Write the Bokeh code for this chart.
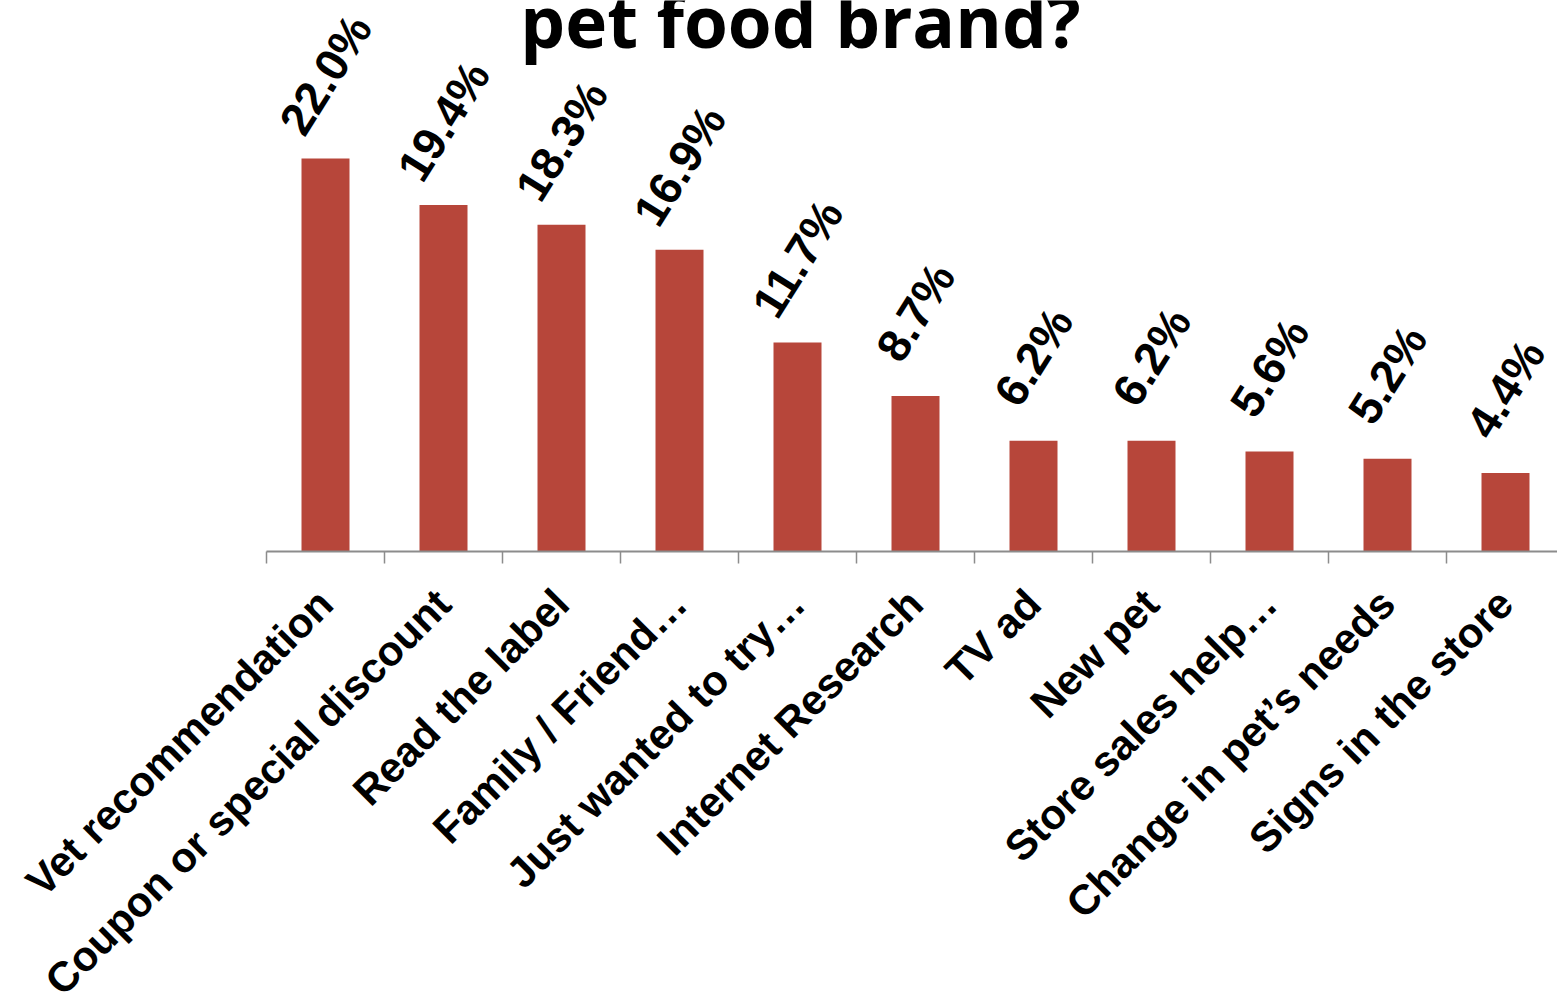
import math
from bokeh.plotting import figure
from bokeh.models import Range1d, FixedTicker, LinearAxis, Label, ColumnDataSource
from bokeh.core.properties import value
from bokeh.embed import file_html
from bokeh.resources import INLINE

categories = ["Vet recommendation", "Coupon or special discount", "Read the label",
              "Family / Friend\u2026", "Just wanted to try\u2026", "Internet Research",
              "TV ad", "New pet", "Store sales help\u2026", "Change in pet\u2019s needs",
              "Signs in the store"]
values = [22.0, 19.4, 18.3, 16.9, 11.7, 8.7, 6.2, 6.2, 5.6, 5.2, 4.4]
value_labels = ["22.0%", "19.4%", "18.3%", "16.9%", "11.7%", "8.7%", "6.2%", "6.2%",
                "5.6%", "5.2%", "4.4%"]
title_text = "pet food brand?"

W, H = 1557, 998
n = len(categories)
centers = [i + 1 for i in range(n)]
boundaries = [i + 0.5 for i in range(n + 1)]

cat_px = 118.0
px_per_unit = 17.86
left_px = 266
base_px = 551

x0 = 0.5 - left_px / cat_px
x1 = 0.5 + (W - left_px) / cat_px
y1 = base_px / px_per_unit
y0 = -(H - base_px) / px_per_unit

p = figure(width=W, height=H, output_backend="svg", toolbar_location=None,
           x_range=Range1d(x0, x1), y_range=Range1d(y0, y1),
           x_axis_location=None, y_axis_location=None,
           min_border=0, min_border_left=0, min_border_right=0,
           min_border_top=0, min_border_bottom=0)
p.outline_line_color = None
p.xgrid.grid_line_color = None
p.ygrid.grid_line_color = None
p.background_fill_color = "white"
p.border_fill_color = "white"

src = ColumnDataSource(dict(x=centers, top=values, lab=value_labels))
p.vbar(x="x", top="top", bottom=0, width=48 / cat_px, source=src,
       fill_color="#B7463A", line_color=None)

p.text(x="x", y="top", text="lab", source=src, y_offset=-84,
       angle=math.radians(58), text_align="center", text_baseline="middle",
       text_font=value("Liberation Sans"), text_font_style="bold",
       text_font_size="46px", text_color="black")

ax = LinearAxis(fixed_location=0)
ax.ticker = FixedTicker(ticks=centers, minor_ticks=boundaries)
ax.bounds = (0.5, n + 0.5)
ax.axis_line_color = "#8C8C8C"
ax.axis_line_width = 2
ax.major_tick_line_color = None
ax.major_tick_in = 0
ax.major_tick_out = 0
ax.minor_tick_line_color = "#8C8C8C"
ax.minor_tick_line_width = 1.5
ax.minor_tick_in = 0
ax.minor_tick_out = 12
ax.major_label_overrides = {t: c for t, c in zip(centers, categories)}
ax.major_label_orientation = math.pi / 4
ax.major_label_standoff = 33
ax.major_label_text_font = "Liberation Sans"
ax.major_label_text_font_style = "bold"
ax.major_label_text_font_size = "42px"
ax.major_label_text_color = "black"
p.add_layout(ax, "below")

title = Label(x=800, y=H - 20, x_units="screen", y_units="screen", text=title_text,
              text_font="Open Sans", text_font_style="bold", text_font_size="71px",
              text_align="center", text_baseline="alphabetic", text_color="black")
p.add_layout(title)

open("out.html", "w").write(file_html(p, INLINE))
